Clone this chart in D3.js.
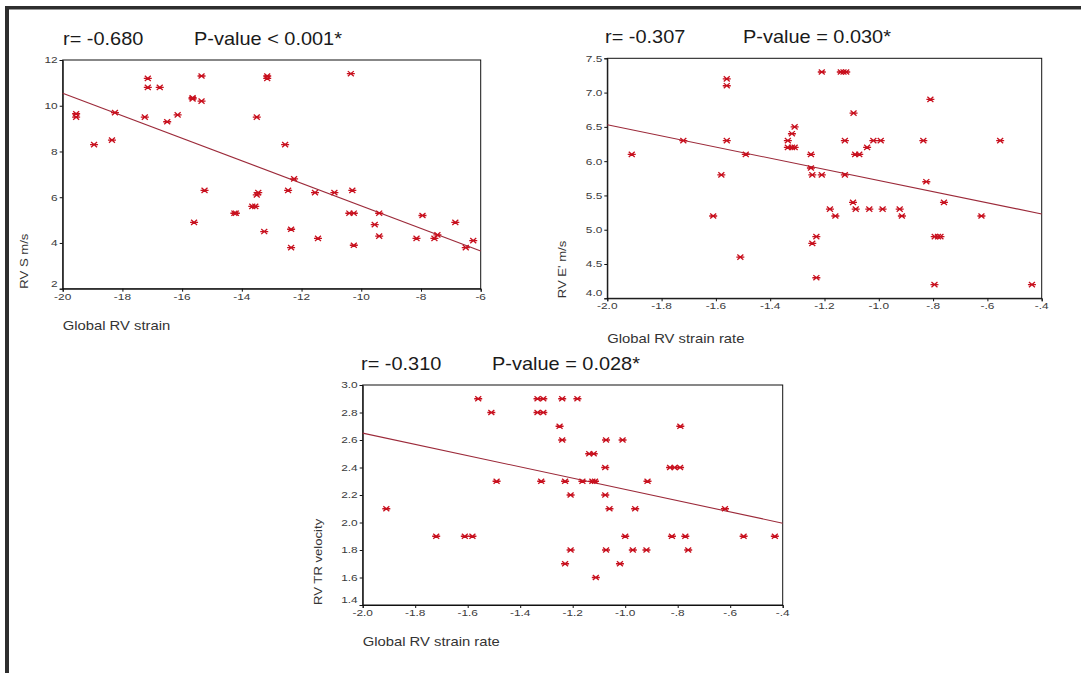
<!DOCTYPE html>
<html>
<head>
<meta charset="utf-8">
<script src="https://cdn.jsdelivr.net/npm/d3@7"></script>
<style>
  body { margin: 0; background: #fff; }
  text { font-family: "Liberation Sans", Arial, sans-serif; }
</style>
</head>
<body>
<svg id="fig" width="1081" height="673"></svg>
<script>
// ---- data ----
// panel 1: Global RV strain vs RV S m/s
var p1X = [-19.55, -19.55, -18.95, -18.35, -18.25, -17.25, -17.15, -17.15, -16.75, -16.5,
           -16.15, -15.65, -15.65, -15.35, -15.35, -15.25, -15.6, -14.25, -14.2, -13.65,
           -13.55, -13.5, -13.45, -13.5, -13.25, -13.15, -13.15, -12.55, -12.45, -12.35,
           -12.35, -12.25, -11.55, -11.45, -10.9, -10.35, -10.3, -10.4, -10.25, -10.25,
           -9.55, -9.4, -9.4, -8.15, -7.95, -7.55, -7.45, -6.85, -6.5, -6.25];
var p1Y = [9.65, 9.5, 8.3, 8.5, 9.7, 9.5, 11.2, 10.8, 10.8, 9.3,
           9.6, 10.35, 10.3, 11.3, 10.2, 6.3, 4.9, 5.3, 5.3, 5.6,
           5.6, 6.1, 6.2, 9.5, 4.5, 11.3, 11.2, 8.3, 6.3, 4.6,
           3.8, 6.8, 6.2, 4.2, 6.2, 11.4, 6.3, 5.3, 5.3, 3.9,
           4.8, 5.3, 4.3, 4.2, 5.2, 4.2, 4.35, 4.9, 3.8, 4.1];
var p1Fit = [10.55, 3.65];   // fitted line at x = -20 and x = -6

// panel 2: Global RV strain rate vs RV E' m/s
var p2X = [-1.91, -1.72, -1.56, -1.56, -1.56, -1.58, -1.61, -1.51, -1.49, -1.335,
           -1.335, -1.32, -1.31, -1.32, -1.31, -1.25, -1.25, -1.245, -1.21, -1.21,
           -1.14, -1.13, -1.12, -1.125, -1.125, -1.093, -1.087, -1.072, -1.043, -1.02,
           -0.993, -0.836, -0.81, -0.825, -1.095, -1.085, -1.18, -1.16, -1.035, -0.986,
           -0.923, -0.915, -0.76, -0.622, -0.553, -1.23, -1.245, -1.23, -0.794, -0.782,
           -0.773, -0.795, -0.436];
var p2Y = [6.1, 6.3, 7.2, 7.1, 6.3, 5.8, 5.2, 4.6, 6.1, 6.3,
           6.2, 6.2, 6.2, 6.4, 6.5, 6.1, 5.9, 5.8, 5.8, 7.3,
           7.3, 7.3, 7.3, 6.3, 5.8, 6.7, 6.1, 6.1, 6.2, 6.3,
           6.3, 6.3, 6.9, 5.7, 5.4, 5.3, 5.3, 5.2, 5.3, 5.3,
           5.3, 5.2, 5.4, 5.2, 6.3, 4.9, 4.8, 4.3, 4.9, 4.9,
           4.9, 4.2, 4.2];
var p2Fit = [6.53, 5.23];    // at x = -2.0 and x = -0.4

// panel 3: Global RV strain rate vs RV TR velocity
var p3X = [-1.91, -1.72, -1.611, -1.582, -1.56, -1.51, -1.49, -1.334, -1.312, -1.334,
           -1.312, -1.32, -1.25, -1.24, -1.24, -1.229, -1.208, -1.208, -1.229, -1.182,
           -1.163, -1.137, -1.12, -1.125, -1.115, -1.112, -1.076, -1.076, -1.073, -1.073,
           -1.06, -1.01, -1.02, -1.0, -0.971, -0.962, -0.915, -0.919, -0.829, -0.812,
           -0.791, -0.822, -0.79, -0.771, -0.76, -0.62, -0.549, -0.43];
var p3Y = [2.1, 1.9, 1.9, 1.9, 2.9, 2.8, 2.3, 2.9, 2.9, 2.8,
           2.8, 2.3, 2.7, 2.9, 2.6, 2.3, 2.2, 1.8, 1.7, 2.9,
           2.3, 2.5, 2.5, 2.3, 2.3, 1.6, 2.4, 2.2, 2.6, 1.8,
           2.1, 2.6, 1.7, 1.9, 1.8, 2.1, 2.3, 1.8, 2.4, 2.4,
           2.4, 1.9, 2.7, 1.9, 1.8, 2.1, 1.9, 1.9];
var p3Fit = [2.65, 1.995];   // at x = -2.0 and x = -0.4

// ticks and labels
var strainTicks = [-20, -18, -16, -14, -12, -10, -8, -6];
var rateTicks = [-2.0, -1.8, -1.6, -1.4, -1.2, -1.0, -0.8, -0.6, -0.4];
var rateTickLabels = ["-2.0", "-1.8", "-1.6", "-1.4", "-1.2", "-1.0", "-.8", "-.6", "-.4"];
var sTicks = [2, 4, 6, 8, 10, 12];
var eTicks = [4.0, 4.5, 5.0, 5.5, 6.0, 6.5, 7.0, 7.5];
var trTicks = [1.4, 1.6, 1.8, 2.0, 2.2, 2.4, 2.6, 2.8, 3.0];
var rValues = ["r= -0.680", "r= -0.307", "r= -0.310"];
var pValues = ["P-value < 0.001*", "P-value = 0.030*", "P-value = 0.028*"];
var xTitles = ["Global RV strain", "Global RV strain rate", "Global RV strain rate"];
var yTitles = ["RV S m/s", "RV E' m/s", "RV TR velocity"];

// ---- layout ----
var svg = d3.select('#fig');
var SX = 1.14;   // the picture's text is a little wide
var markColor = '#c8101e';
var lineColor = '#9c2a3a';

svg.append('rect').attr('width', 1081).attr('height', 673).attr('fill', '#fff');
// dark frame on top and left
svg.append('rect').attr('x', 5).attr('y', 6).attr('width', 1076).attr('height', 3.5).attr('fill', '#2e2e2e');
svg.append('rect').attr('x', 5).attr('y', 6).attr('width', 4).attr('height', 667).attr('fill', '#2e2e2e');

function wideText(parent, x, y, str, size, opts) {
  opts = opts || {};
  var rot = opts.rotate ? ' rotate(' + opts.rotate + ')' : '';
  var g = parent.append('g').attr('transform', 'translate(' + x + ',' + y + ')' + rot + ' scale(' + (opts.sx || SX) + ',1)');
  return g.append('text')
    .attr('font-size', size)
    .attr('fill', opts.fill || '#222')
    .attr('font-weight', opts.weight || 'normal')
    .attr('text-anchor', opts.anchor || 'start')
    .text(str);
}

var panels = [
  {xs: p1X, ys: p1Y, fit: p1Fit, xDom: [-20, -6], yDom: [2, 12], xT: strainTicks, xL: strainTicks.map(String),
   yT: sTicks, yFmt: d3.format('d'),
   box: {l: 62.7, r: 480.7, t: 60, b: 288.7},
   rX: 63, pX: 194, titleY: 45, xLabY: 330, yLabX: 28},
  {xs: p2X, ys: p2Y, fit: p2Fit, xDom: [-2.0, -0.4], yDom: [4.0, 7.5], xT: rateTicks, xL: rateTickLabels,
   yT: eTicks, yFmt: d3.format('.1f'),
   box: {l: 607.3, r: 1041.7, t: 58.3, b: 298.3},
   rX: 605, pX: 743, titleY: 42.5, xLabY: 343, yLabX: 566},
  {xs: p3X, ys: p3Y, fit: p3Fit, xDom: [-2.0, -0.4], yDom: [1.4, 3.0], xT: rateTicks, xL: rateTickLabels,
   yT: trTicks, yFmt: d3.format('.1f'),
   box: {l: 362.7, r: 782.7, t: 385, b: 605},
   rX: 361, pX: 492, titleY: 370, xLabY: 646, yLabX: 322}
];

var star = 'M-4,0H4M-3,-2.6L3,2.6M-3,2.6L3,-2.6';

panels.forEach(function(p, i) {
  var b = p.box;
  var x = d3.scaleLinear().domain(p.xDom).range([b.l, b.r]);
  var y = d3.scaleLinear().domain(p.yDom).range([b.b, b.t]);
  var g = svg.append('g');

  // frame
  g.append('rect').attr('x', b.l).attr('y', b.t).attr('width', b.r - b.l).attr('height', b.b - b.t)
    .attr('fill', 'none').attr('stroke', '#111').attr('stroke-width', 1);

  // axes (ticks only, labels drawn wide below)
  var yAxis = d3.axisLeft(y).tickValues(p.yT).tickSize(3).tickFormat('');
  var xAxis = d3.axisBottom(x).tickValues(p.xT).tickSize(3).tickFormat('');
  g.append('g').attr('transform', 'translate(' + b.l + ',0)').call(yAxis)
    .call(function(s) { s.select('.domain').attr('stroke', '#111'); s.selectAll('line').attr('stroke', '#111'); });
  g.append('g').attr('transform', 'translate(0,' + b.b + ')').call(xAxis)
    .call(function(s) { s.select('.domain').attr('stroke', '#111'); s.selectAll('line').attr('stroke', '#111'); });

  p.yT.forEach(function(v, k) {
    var ty = y(v) + 3.4;
    if (k === 0) ty -= 5.5;
    wideText(g, b.l - 5, ty, p.yFmt(v), 9.5, {anchor: 'end', fill: '#3a3a3a', sx: 1.25});
  });
  p.xT.forEach(function(v, k) {
    wideText(g, x(v), b.b + 10.8, p.xL[k], 9.5, {anchor: 'middle', fill: '#3a3a3a', sx: 1.25});
  });

  // regression line
  g.append('line')
    .attr('x1', x(p.xDom[0])).attr('y1', y(p.fit[0]))
    .attr('x2', x(p.xDom[1])).attr('y2', y(p.fit[1]))
    .attr('stroke', lineColor).attr('stroke-width', 1.1);

  // asterisk markers
  g.selectAll('path.pt').data(p.xs.map(function(v, k) { return [v, p.ys[k]]; }))
    .enter().append('path').attr('class', 'pt')
    .attr('transform', function(d) { return 'translate(' + x(d[0]) + ',' + y(d[1]) + ')'; })
    .attr('d', star)
    .attr('stroke', markColor).attr('stroke-width', 1.3).attr('fill', 'none');

  // titles
  wideText(svg, p.rX, p.titleY, rValues[i], 17.5, {fill: '#1a1a1a'});
  wideText(svg, p.pX, p.titleY, pValues[i], 17.5, {fill: '#1a1a1a'});
  wideText(svg, b.l, p.xLabY, xTitles[i], 13, {fill: '#333'});
  wideText(svg, p.yLabX, b.b, yTitles[i], 11.5, {fill: '#333', rotate: -90});
});
</script>
</body>
</html>
